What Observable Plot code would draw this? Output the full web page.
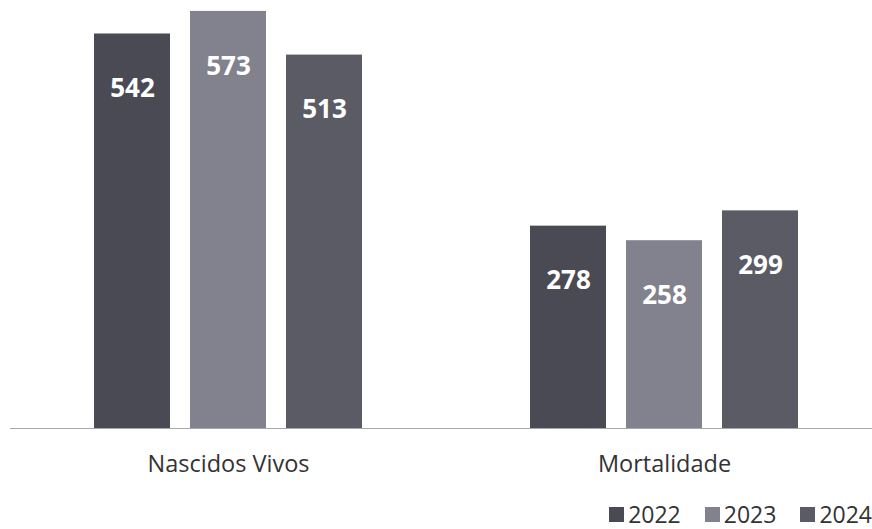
<!DOCTYPE html>
<html>
<head>
<meta charset="utf-8">
<script src="https://cdn.jsdelivr.net/npm/d3@7"></script>
<script src="https://cdn.jsdelivr.net/npm/@observablehq/plot@0.6"></script>
<style>
  html, body { margin: 0; padding: 0; background: #fff; }
  #chart { width: 872px; }
  .legend { display: flex; justify-content: flex-end; gap: 24px; padding-right: 0px; margin-top: 10px;
    font-family: "Open Sans", "Noto Sans", sans-serif; font-size: 23px; line-height: 28px; color: #333; }
  .legend span { display: inline-flex; align-items: center; }
  .legend i { display: inline-block; width: 15px; height: 15px; margin-right: 4px; }
</style>
</head>
<body>
<div id="chart"></div>
<script>
const categories = ["Nascidos Vivos", "Mortalidade"];
const years = ["2022", "2023", "2024"];
const values2022 = [542, 278];
const values2023 = [573, 258];
const values2024 = [513, 299];
const colors = ["#4a4a54", "#82828e", "#5b5b66"];

const series = [values2022, values2023, values2024];
const data = [];
categories.forEach((c, i) => years.forEach((y, j) => data.push({category: c, year: y, value: series[j][i]})));

const plot = Plot.plot({
  width: 872,
  height: 490,
  marginTop: 0,
  marginLeft: 0,
  marginRight: 0,
  marginBottom: 62,
  style: {fontFamily: "'Open Sans', 'Noto Sans', sans-serif", background: "#fff"},
  fx: {domain: categories, range: [9, 882], padding: 0, label: null},
  x: {domain: years, paddingInner: 0.206, paddingOuter: 0.853, axis: null},
  y: {domain: [0, 588], axis: null},
  color: {domain: years, range: colors},
  marks: [
    Plot.barY(data, {fx: "category", x: "year", y: "value", fill: "year"}),
    Plot.text(data, {fx: "category", x: "year", y: "value", text: d => String(d.value),
      dy: 55, fill: "#fff", fontSize: 26, fontWeight: "bold"}),
    Plot.ruleY([0], {stroke: "#a8a8a8", strokeWidth: 1.2}),
    Plot.axisFx({anchor: "bottom", tickSize: 0, tickPadding: 27, fontSize: 23.5, fill: "#333", label: null})
  ]
});
document.getElementById("chart").appendChild(plot);

const legend = document.createElement("div");
legend.className = "legend";
years.forEach((y, j) => {
  const s = document.createElement("span");
  s.innerHTML = `<i style="background:${colors[j]}"></i>${y}`;
  legend.appendChild(s);
});
document.getElementById("chart").appendChild(legend);
</script>
</body>
</html>
